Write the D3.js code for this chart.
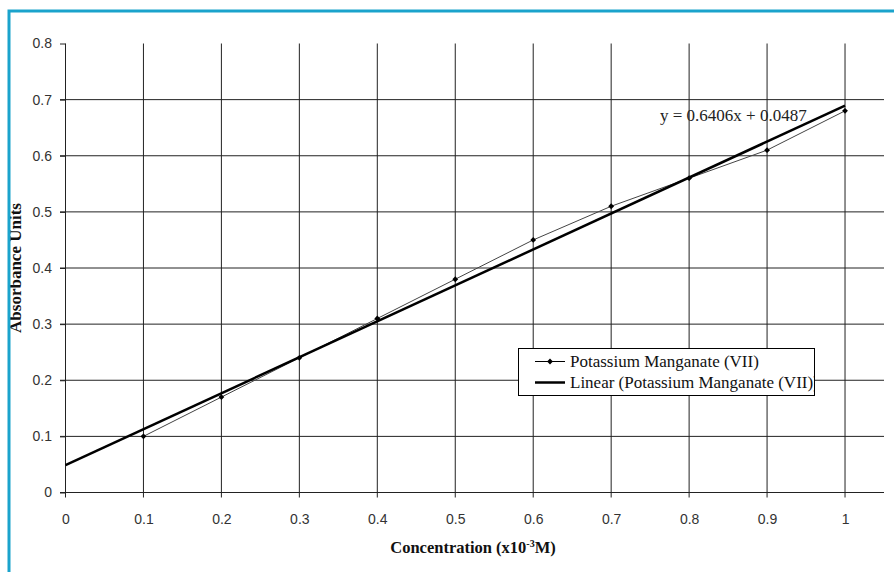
<!DOCTYPE html>
<html>
<head>
<meta charset="utf-8">
<script src="https://cdn.jsdelivr.net/npm/d3@7"></script>
<style>
  html, body { margin: 0; padding: 0; background: #fff; }
  svg { display: block; }
</style>
</head>
<body>
<script>
// ---- data ----
const concentration = [0.1, 0.2, 0.3, 0.4, 0.5, 0.6, 0.7, 0.8, 0.9, 1.0];
const absorbance    = [0.10, 0.17, 0.24, 0.31, 0.38, 0.45, 0.51, 0.56, 0.61, 0.68];
const trendSlope = 0.6406;
const trendIntercept = 0.0487;
const trendRange = [0, 1];
const xTicks = [0, 0.1, 0.2, 0.3, 0.4, 0.5, 0.6, 0.7, 0.8, 0.9, 1];
const yTicks = [0, 0.1, 0.2, 0.3, 0.4, 0.5, 0.6, 0.7, 0.8];
const seriesName = "Potassium Manganate (VII)";
const trendName = "Linear (Potassium Manganate (VII))";
const equationText = "y = 0.6406x + 0.0487";
const yTitle = "Absorbance Units";

const W = 894, H = 572;
const svg = d3.select("body").append("svg").attr("width", W).attr("height", H);

const x = d3.scaleLinear().domain([0, 1.05]).range([65.5, 884]);
const y = d3.scaleLinear().domain([0, 0.8]).range([492.5, 43.5]);

const gridColor = "#222";
const serif = "Liberation Serif, Times New Roman, serif";
const sans = "Liberation Sans, Arial, sans-serif";

// horizontal gridlines (0..0.7)
svg.append("g").selectAll("line")
  .data(yTicks.filter(v => v < 0.8))
  .join("line")
  .attr("x1", x(0) - 5.5).attr("x2", x(1.05))
  .attr("y1", d => y(d)).attr("y2", d => y(d))
  .attr("stroke", gridColor).attr("stroke-width", 1);

// vertical gridlines
svg.append("g").selectAll("line")
  .data(xTicks)
  .join("line")
  .attr("x1", d => x(d)).attr("x2", d => x(d))
  .attr("y1", y(0.8)).attr("y2", y(0) + 5)
  .attr("stroke", gridColor).attr("stroke-width", 1);

// y axis labels + ticks
const yAxis = svg.append("g")
  .attr("transform", `translate(${x(0)},0)`)
  .call(d3.axisLeft(y).tickValues(yTicks).tickFormat(d3.format("")).tickSize(5.5).tickPadding(8));
yAxis.select(".domain").remove();
yAxis.selectAll("line").attr("stroke", gridColor);
yAxis.selectAll("text").attr("font-family", sans).attr("font-size", 14).attr("fill", "#333");

// x axis labels
const xAxis = svg.append("g")
  .attr("transform", `translate(0,${y(0)})`)
  .call(d3.axisBottom(x).tickValues(xTicks).tickFormat(d3.format("")).tickSize(5).tickPadding(16.5));
xAxis.select(".domain").remove();
xAxis.selectAll("line").remove();
xAxis.selectAll("text").attr("font-family", sans).attr("font-size", 14).attr("fill", "#333");

// data line
const pts = concentration.map((c, i) => [c, absorbance[i]]);
svg.append("path")
  .datum(pts)
  .attr("fill", "none")
  .attr("stroke", "#444")
  .attr("stroke-width", 1)
  .attr("d", d3.line().x(d => x(d[0])).y(d => y(d[1])));

// trendline
svg.append("path")
  .datum(trendRange.map(v => [v, trendSlope * v + trendIntercept]))
  .attr("fill", "none")
  .attr("stroke", "#000")
  .attr("stroke-width", 2.5)
  .attr("d", d3.line().x(d => x(d[0])).y(d => y(d[1])));

// markers
const diamond = d3.symbol().type(d3.symbolSquare).size(17);
svg.append("g").selectAll("path")
  .data(pts)
  .join("path")
  .attr("d", diamond)
  .attr("transform", d => `translate(${x(d[0])},${y(d[1])}) rotate(45)`)
  .attr("fill", "#000");

// equation
svg.append("text")
  .attr("x", 660).attr("y", 121)
  .attr("font-family", serif).attr("font-size", 17).attr("fill", "#222")
  .text(equationText);

// legend
const lg = svg.append("g");
const lx = 518.5, ly = 348.5, lw = 296, lh = 47;
svg.append("clipPath").attr("id", "lclip")
  .append("rect").attr("x", lx).attr("y", ly).attr("width", lw).attr("height", lh);
lg.append("rect").attr("x", lx).attr("y", ly).attr("width", lw).attr("height", lh)
  .attr("fill", "#fff").attr("stroke", "none");
const lt = lg.append("g").attr("clip-path", "url(#lclip)");
lt.append("line").attr("x1", 535).attr("x2", 565).attr("y1", 361.5).attr("y2", 361.5)
  .attr("stroke", "#000").attr("stroke-width", 1);
lt.append("path").attr("d", diamond).attr("transform", "translate(550,361.5) rotate(45)").attr("fill", "#000");
lt.append("line").attr("x1", 535).attr("x2", 565).attr("y1", 382.5).attr("y2", 382.5)
  .attr("stroke", "#000").attr("stroke-width", 2.5);
lt.append("text").attr("x", 570).attr("y", 367)
  .attr("font-family", serif).attr("font-size", 17).attr("fill", "#111").text(seriesName);
lt.append("text").attr("x", 570).attr("y", 388)
  .attr("font-family", serif).attr("font-size", 17).attr("fill", "#111").text(trendName);
lg.append("rect").attr("x", lx).attr("y", ly).attr("width", lw).attr("height", lh)
  .attr("fill", "none").attr("stroke", "#000").attr("stroke-width", 1);

// x axis title
const xt = svg.append("text")
  .attr("x", 473).attr("y", 553)
  .attr("text-anchor", "middle")
  .attr("font-family", serif).attr("font-size", 16.5).attr("font-weight", "bold").attr("fill", "#111");
xt.append("tspan").text("Concentration (x10");
xt.append("tspan").attr("dy", -6).attr("font-size", 10).text("-3");
xt.append("tspan").attr("dy", 6).text("M)");

// y axis title
svg.append("text")
  .attr("transform", "translate(21,268) rotate(-90)")
  .attr("text-anchor", "middle")
  .attr("font-family", serif).attr("font-size", 17).attr("font-weight", "bold").attr("fill", "#111")
  .text(yTitle);

// frame border (cropped)
svg.append("path")
  .attr("d", `M9,${H} V11 H${W}`)
  .attr("fill", "none")
  .attr("stroke", "#1aa3cc")
  .attr("stroke-width", 3);
</script>
</body>
</html>
